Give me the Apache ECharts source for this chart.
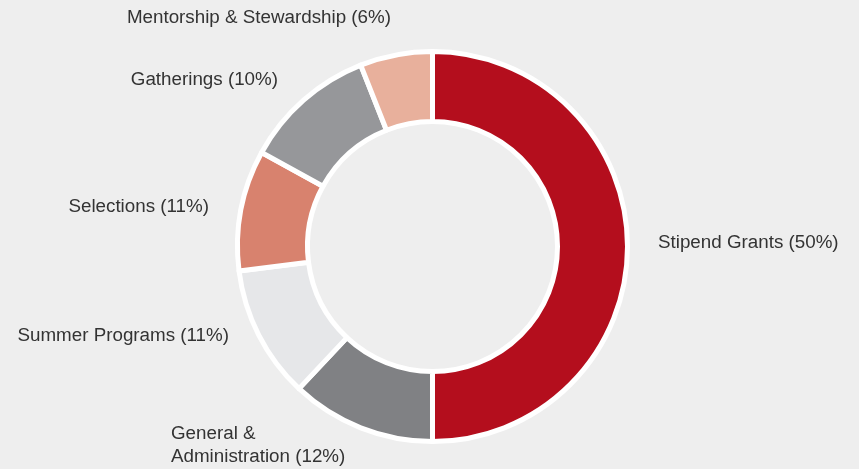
<!DOCTYPE html>
<html>
<head>
<meta charset="utf-8">
<script src="https://cdn.jsdelivr.net/npm/echarts@6/dist/echarts.min.js"></script>
<style>
  html, body { margin: 0; padding: 0; background: #eeeeee; }
  #chart { width: 859px; height: 469px; }
</style>
</head>
<body>
<div id="chart"></div>
<script>
// Budget split (slice sizes read from the ring, printed percentages from labels)
const categories = ["Stipend Grants", "General &\nAdministration", "Summer Programs", "Selections", "Gatherings", "Mentorship & Stewardship"];
const values = [50, 12, 11, 10, 11, 6];
const printedPct = [50, 12, 11, 11, 10, 6];
const colors = ["#b40e1d", "#808184", "#e6e7e9", "#d8826e", "#96979a", "#e8b09c"];

// where each label sits (anchor x, y, alignment)
const labelSpots = [
    { x: 658, y: 243, align: "left" },
    { x: 171, y: 445, align: "left" },
    { x: 229, y: 336, align: "right" },
    { x: 209, y: 207, align: "right" },
    { x: 278, y: 80, align: "right" },
    { x: 391, y: 18, align: "right" }
];

const chart = echarts.init(document.getElementById("chart"));

chart.setOption({
    backgroundColor: "#eeeeee",
    animation: false,
    series: [
        {
            type: "pie",
            center: [432.5, 246.5],
            radius: [125, 195],
            startAngle: 90,
            clockwise: true,
            data: categories.map((name, i) => ({
                name: name,
                value: values[i],
                itemStyle: { color: colors[i] }
            })),
            itemStyle: {
                borderColor: "#ffffff",
                borderWidth: 5
            },
            label: {
                show: true,
                position: "outside",
                overflow: "none",
                fontFamily: "Liberation Sans, Arial, sans-serif",
                fontSize: 18.8,
                lineHeight: 23,
                color: "#333333",
                formatter: (p) => p.name + " (" + printedPct[p.dataIndex] + "%)"
            },
            labelLine: { show: false },
            labelLayout: (params) => {
                const s = labelSpots[params.dataIndex];
                return { x: s.x, y: s.y, align: s.align, verticalAlign: "middle" };
            },
            emphasis: { disabled: true }
        }
    ]
});
</script>
</body>
</html>
